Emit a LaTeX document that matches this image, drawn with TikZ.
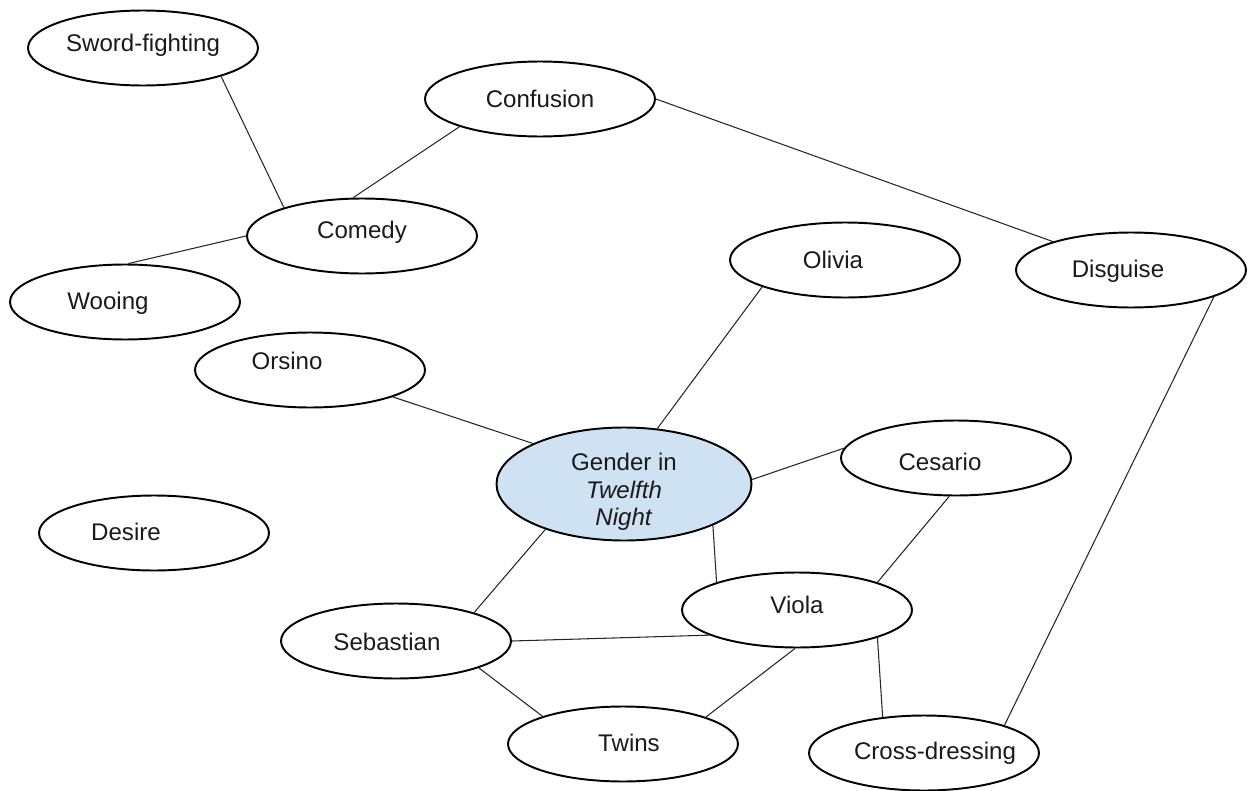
\documentclass[tikz,border=0pt]{standalone}
\usepackage{fontspec}
\setmainfont{Liberation Sans}
\usetikzlibrary{shapes.geometric}
\definecolor{paleblue}{HTML}{CFE2F3}
\definecolor{ink}{HTML}{1A1A1A}
\tikzset{
  bubble/.style={
    ellipse, draw=black, fill=white, line width=1.1pt,
    minimum width=4.6cm, minimum height=1.5cm, inner sep=0pt
  },
  topic/.style={bubble, fill=paleblue, minimum width=5.1cm, minimum height=2.26cm},
  word/.style={font=\fontsize{13.7}{15.6}\selectfont, text=ink, align=center, inner sep=0pt},
  link/.style={line width=0.6pt, draw=black!85},
}

\begin{document}
\begin{tikzpicture}[x=0.02cm, y=-0.02cm]
  \useasboundingbox (0,0) rectangle (1248,791);

  % centre
  \node[topic, label={[word, shift={(0,8)}]center:{Gender in\\\textit{Twelfth}\\\textit{Night}}}] (gender) at (624,484) {};

  % themes
  \node[bubble, label={[word, shift={(0,-3)}]center:Sword-fighting}] (sword) at (143,48) {};
  \node[bubble, label={[word]center:Confusion}] (confusion) at (540,99) {};
  \node[bubble, label={[word, shift={(0,-4)}]center:Comedy}] (comedy) at (362,236) {};
  \node[bubble, label={[word, shift={(-17,1)}]center:Wooing}] (wooing) at (125,302) {};
  \node[bubble, label={[word, shift={(-13,1)}]center:Disguise}] (disguise) at (1131,270) {};
  \node[bubble, label={[word, shift={(-28,-1)}]center:Desire}] (desire) at (154,533) {};
  \node[bubble, label={[word, shift={(6,-1)}]center:Twins}] (twins) at (623,744) {};
  \node[bubble, label={[word, shift={(11,0)}]center:Cross-dressing}] (crossdress) at (924,753) {};

  % characters
  \node[bubble, label={[word, shift={(-12,0)}]center:Olivia}] (olivia) at (845,260) {};
  \node[bubble, label={[word, shift={(-23,-9)}]center:Orsino}] (orsino) at (310,370) {};
  \node[bubble, label={[word, shift={(-16,4)}]center:Cesario}] (cesario) at (956,458) {};
  \node[bubble, label={[word, shift={(0,-5)}]center:Viola}] (viola) at (797,610) {};
  \node[bubble, label={[word, shift={(-9,1)}]center:Sebastian}] (sebastian) at (396,641) {};

  \draw[link] (sword.-20) -- (comedy.160);
  \draw[link] (confusion.-161) -- (comedy.103);
  \draw[link] (comedy.180) -- (wooing.85);
  \draw[link] (confusion.0) -- (disguise.160);
  \draw[link] (olivia.-162) -- (gender.59);
  \draw[link] (orsino.-18) -- (gender.156);
  \draw[link] (gender.2) -- (cesario.175);
  \draw[link] (cesario.-100) -- (viola.19);
  \draw[link] (gender.-25) -- (viola.161);
  \draw[link] (gender.-150) -- (sebastian.20);
  \draw[link] (sebastian.0) -- (viola.-164);
  \draw[link] (sebastian.-18) -- (twins.161);
  \draw[link] (viola.-93) -- (twins.18);
  \draw[link] (viola.-19) -- (crossdress.139);
  \draw[link] (disguise.-18) -- (crossdress.19);
\end{tikzpicture}
\end{document}
